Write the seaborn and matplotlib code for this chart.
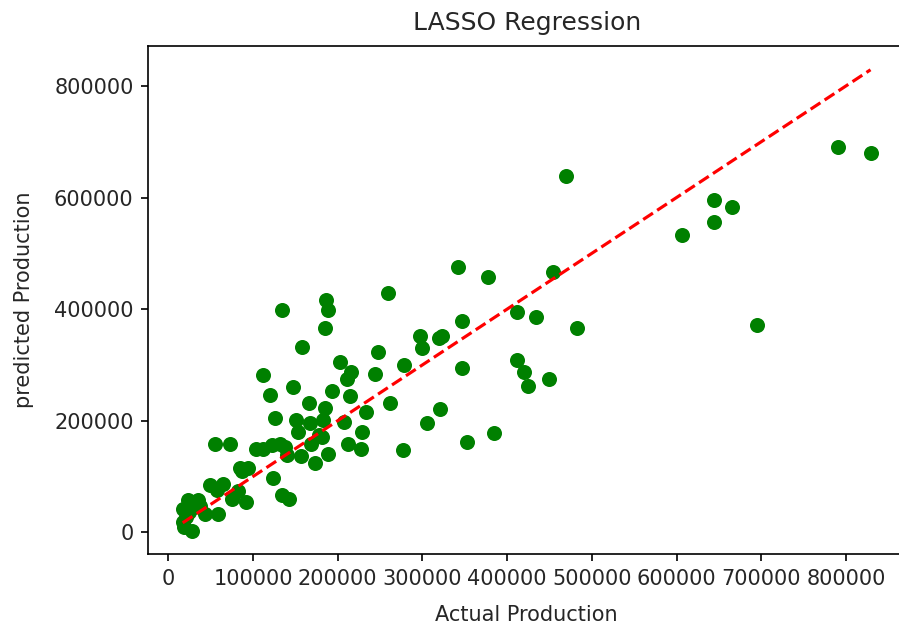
import matplotlib
matplotlib.use("Agg")
import matplotlib.pyplot as plt
import seaborn as sns
import numpy as np

actual = [
    17000, 17000, 18000, 23000, 28000, 35000, 25000, 21000, 43000, 59000,
    49000, 65000, 58000, 75000, 82000, 92000, 38000, 30000,
    55000, 73000, 85000, 94000, 87000, 104000, 124000, 134000, 143000, 112000,
    122000, 132000, 138000, 140000, 157000, 173000, 169000, 189000, 212000, 227000,
    277000, 153000, 178000, 181000, 229000, 385000, 353000,
    126000, 151000, 167000, 183000, 208000, 305000, 166000, 185000, 262000, 233000,
    321000, 112000, 120000, 147000, 193000, 214000, 203000, 216000, 211000, 244000,
    278000, 347000, 412000, 420000, 425000, 449000,
    158000, 248000, 297000, 299000, 319000, 323000, 134000, 186000, 188000, 185000,
    259000, 347000, 412000, 434000, 482000, 342000, 377000, 454000, 470000,
    607000, 644000, 644000, 666000, 695000, 791000, 829000,
]
predicted = [
    42000, 18000, 9000, 57000, 3000, 57000, 37000, 27000, 33000, 33000,
    84000, 86000, 75000, 59000, 74000, 54000, 48000, 45000,
    159000, 159000, 116000, 116000, 110000, 149000, 98000, 66000, 59000, 150000,
    156000, 159000, 153000, 138000, 136000, 124000, 159000, 141000, 159000, 149000,
    148000, 180000, 175000, 171000, 179000, 178000, 162000,
    204000, 201000, 196000, 201000, 198000, 195000, 232000, 222000, 232000, 215000,
    221000, 282000, 246000, 261000, 253000, 244000, 305000, 288000, 274000, 283000,
    299000, 295000, 309000, 288000, 262000, 274000,
    333000, 324000, 351000, 330000, 348000, 352000, 399000, 417000, 399000, 366000,
    429000, 378000, 395000, 386000, 366000, 475000, 458000, 467000, 638000,
    533000, 557000, 596000, 583000, 371000, 691000, 679000,
]

plt.rcParams['font.family'] = ['DejaVu Sans']

fig = plt.figure(figsize=(8.99, 6.31), dpi=100)
ax = fig.add_axes([148.3 / 899, (631 - 554) / 631, (905 - 148.3) / 899, (554 - 46) / 631])

sns.scatterplot(x=actual, y=predicted, color='green', s=117, linewidth=0, ax=ax)
lo, hi = min(actual), max(actual)
sns.lineplot(x=[lo, hi], y=[lo, hi], color='red', linestyle='--', linewidth=2.27, ax=ax)

ax.set_title('LASSO Regression', fontsize=18, pad=11.5, color='#262626')
ax.set_xlabel('Actual Production', fontsize=15, labelpad=11.5, color='#262626')
ax.set_ylabel('predicted Production', fontsize=15, labelpad=14.4, color='#262626')
ax.set_xticks([0, 100000, 200000, 300000, 400000, 500000, 600000, 700000, 800000])
ax.set_yticks([0, 200000, 400000, 600000, 800000])
ax.ticklabel_format(style='plain')
ax.tick_params(labelsize=15, length=5.3, width=1.2, pad=5.3, labelcolor='#262626')
for sp in ax.spines.values():
    sp.set_linewidth(1.2)
    sp.set_color('black')
ax.set_xlim(-23600, 869700)
ax.set_ylim(-38900, 871600)

fig.savefig('out.png', dpi=100)
